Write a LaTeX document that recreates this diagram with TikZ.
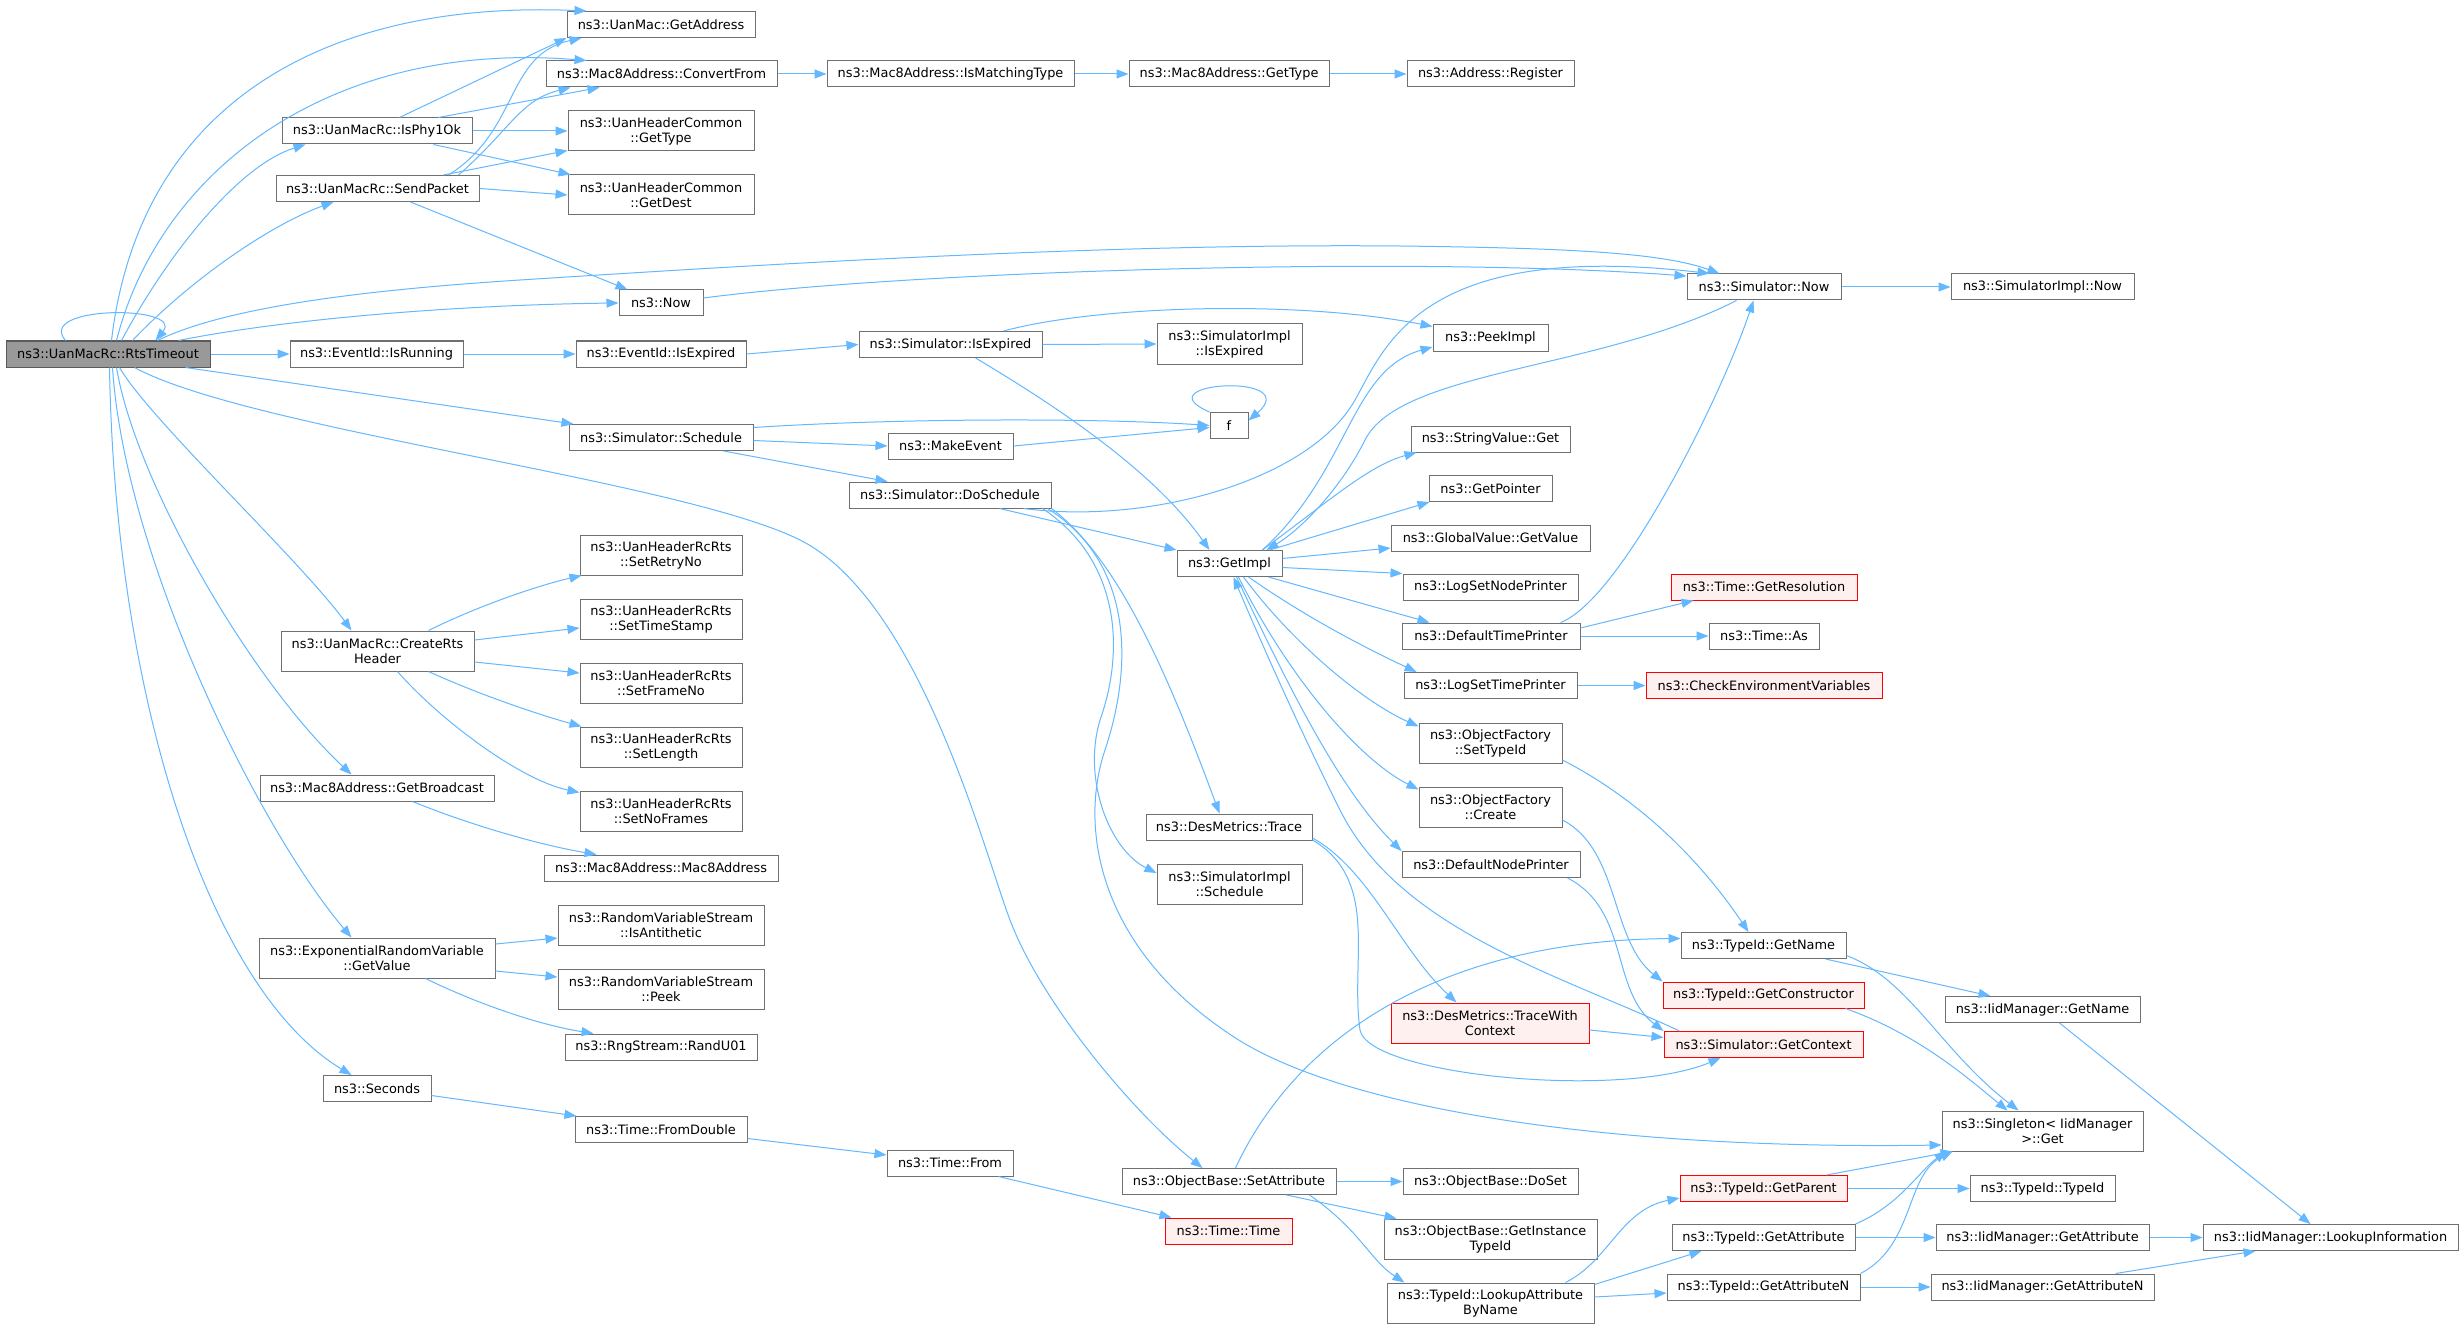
\documentclass[tikz,border=0pt]{standalone}
\usepackage{fontspec}
\setmainfont{DejaVu Sans}
\usetikzlibrary{arrows.meta}
\definecolor{edgec}{HTML}{63B8FF}
\definecolor{nodeb}{HTML}{707070}
\definecolor{rootf}{HTML}{999999}
\definecolor{redf}{HTML}{FFF0F0}
\begin{document}
\begin{tikzpicture}[x=1pt,y=-1pt,
 fn/.style={draw=nodeb, fill=white, line width=1pt, inner sep=0pt, align=center,
   font=\fontsize{12.9}{15}\selectfont, minimum height=26pt},
 two/.style={minimum height=40pt},
 redn/.style={draw=red, fill=redf},
 rootn/.style={fill=rootf, draw=nodeb!80!black},
 call/.style={draw=edgec, line width=1pt, -{Triangle[length=12pt,width=9pt]}}]
\fill[white] (0,0) rectangle (2464,1329);
\useasboundingbox (0,0) rectangle (2464,1329);

% nodes
\node[fn,rootn,minimum width=204pt] (R) at (108,354) {ns3::UanMacRc::RtsTimeout};
\node[fn,minimum width=188pt] (uma) at (661,24.5) {ns3::UanMac::GetAddress};
\node[fn,minimum width=231pt] (cf) at (661.5,74) {ns3::Mac8Address::ConvertFrom};
\node[fn,minimum width=247pt] (imt) at (950.5,74) {ns3::Mac8Address::IsMatchingType};
\node[fn,minimum width=200pt] (m8gt) at (1229,74) {ns3::Mac8Address::GetType};
\node[fn,minimum width=167pt] (reg) at (1490.5,74) {ns3::Address::Register};
\node[fn,minimum width=190pt] (phy) at (377,131) {ns3::UanMacRc::IsPhy1Ok};
\node[fn,two,minimum width=186pt] (uhgt) at (661,131) {ns3::UanHeaderCommon\\::GetType};
\node[fn,minimum width=203pt] (sp) at (377.5,188.5) {ns3::UanMacRc::SendPacket};
\node[fn,two,minimum width=186pt] (uhgd) at (661,195) {ns3::UanHeaderCommon\\::GetDest};
\node[fn,minimum width=84pt] (now) at (661,303) {ns3::Now};
\node[fn,minimum width=154pt] (snow) at (1764,287) {ns3::Simulator::Now};
\node[fn,minimum width=183pt] (sinow) at (2042.5,287) {ns3::SimulatorImpl::Now};
\node[fn,minimum width=173pt] (isr) at (376.5,354) {ns3::EventId::IsRunning};
\node[fn,minimum width=170pt] (eie) at (661,354) {ns3::EventId::IsExpired};
\node[fn,minimum width=183pt] (sie) at (950.5,344.5) {ns3::Simulator::IsExpired};
\node[fn,two,minimum width=145pt] (siie) at (1229.5,344) {ns3::SimulatorImpl\\::IsExpired};
\node[fn,minimum width=115pt] (peek) at (1490.5,338) {ns3::PeekImpl};
\node[fn,minimum width=184pt] (sched) at (661,437.5) {ns3::Simulator::Schedule};
\node[fn,minimum width=38pt] (f) at (1229,425.5) {f};
\node[fn,minimum width=125pt] (mk) at (950.5,446) {ns3::MakeEvent};
\node[fn,minimum width=159pt] (svg) at (1490.5,439) {ns3::StringValue::Get};
\node[fn,minimum width=202pt] (ds) at (950,495) {ns3::Simulator::DoSchedule};
\node[fn,minimum width=123pt] (gp) at (1490.5,488.5) {ns3::GetPointer};
\node[fn,minimum width=105pt] (gi) at (1229.5,563.5) {ns3::GetImpl};
\node[fn,minimum width=199pt] (gv) at (1490.5,538) {ns3::GlobalValue::GetValue};
\node[fn,minimum width=175pt] (lsnp) at (1490.5,587) {ns3::LogSetNodePrinter};
\node[fn,minimum width=178pt] (dtp) at (1491,636) {ns3::DefaultTimePrinter};
\node[fn,minimum width=173pt] (lstp) at (1490.5,685.5) {ns3::LogSetTimePrinter};
\node[fn,two,minimum width=143pt] (ofs) at (1490.5,743) {ns3::ObjectFactory\\::SetTypeId};
\node[fn,two,minimum width=143pt] (ofc) at (1490.5,807) {ns3::ObjectFactory\\::Create};
\node[fn,minimum width=166pt] (dmt) at (1229,827) {ns3::DesMetrics::Trace};
\node[fn,two,minimum width=145pt] (siis) at (1229.5,884) {ns3::SimulatorImpl\\::Schedule};
\node[fn,minimum width=178pt] (dnp) at (1491,864.5) {ns3::DefaultNodePrinter};
\node[fn,two,redn,minimum width=198pt] (dmtc) at (1490,1023) {ns3::DesMetrics::TraceWith\\Context};
\node[fn,redn,minimum width=186pt] (gres) at (1764,587) {ns3::Time::GetResolution};
\node[fn,minimum width=110pt] (tas) at (1764,636) {ns3::Time::As};
\node[fn,redn,minimum width=236pt] (cev) at (1764,685.5) {ns3::CheckEnvironmentVariables};
\node[fn,two,minimum width=162pt] (srr) at (661,555) {ns3::UanHeaderRcRts\\::SetRetryNo};
\node[fn,two,minimum width=193pt] (cr) at (377.5,651) {ns3::UanMacRc::CreateRts\\Header};
\node[fn,two,minimum width=162pt] (sts) at (661,619) {ns3::UanHeaderRcRts\\::SetTimeStamp};
\node[fn,two,minimum width=162pt] (sfn) at (661,683) {ns3::UanHeaderRcRts\\::SetFrameNo};
\node[fn,two,minimum width=162pt] (sl) at (661,747) {ns3::UanHeaderRcRts\\::SetLength};
\node[fn,two,minimum width=162pt] (snf) at (661,811) {ns3::UanHeaderRcRts\\::SetNoFrames};
\node[fn,minimum width=234pt] (gb) at (377,788) {ns3::Mac8Address::GetBroadcast};
\node[fn,minimum width=234pt] (m8) at (661,868) {ns3::Mac8Address::Mac8Address};
\node[fn,two,minimum width=206pt] (ia) at (661,925.5) {ns3::RandomVariableStream\\::IsAntithetic};
\node[fn,two,minimum width=236pt] (erv) at (377,958) {ns3::ExponentialRandomVariable\\::GetValue};
\node[fn,two,minimum width=206pt] (pk) at (661,989.5) {ns3::RandomVariableStream\\::Peek};
\node[fn,minimum width=192pt] (ru) at (661,1047) {ns3::RngStream::RandU01};
\node[fn,minimum width=108pt] (sec) at (377,1088.5) {ns3::Seconds};
\node[fn,minimum width=172pt] (fd) at (661,1129.5) {ns3::Time::FromDouble};
\node[fn,minimum width=126pt] (tf) at (950,1163) {ns3::Time::From};
\node[fn,minimum width=214pt] (sa) at (1229,1181.5) {ns3::ObjectBase::SetAttribute};
\node[fn,minimum width=175pt] (dos) at (1490.5,1181.5) {ns3::ObjectBase::DoSet};
\node[fn,redn,minimum width=127pt] (tt) at (1228.5,1231) {ns3::Time::Time};
\node[fn,two,minimum width=213pt] (gitid) at (1490.5,1239) {ns3::ObjectBase::GetInstance\\TypeId};
\node[fn,two,minimum width=207pt] (laby) at (1490.5,1303) {ns3::TypeId::LookupAttribute\\ByName};
\node[fn,minimum width=165pt] (tgn) at (1763.5,945.5) {ns3::TypeId::GetName};
\node[fn,redn,minimum width=201pt] (gc) at (1763.5,995) {ns3::TypeId::GetConstructor};
\node[fn,redn,minimum width=199pt] (sgc) at (1763.5,1044.5) {ns3::Simulator::GetContext};
\node[fn,minimum width=195pt] (ign) at (2042.5,1009.5) {ns3::IidManager::GetName};
\node[fn,two,minimum width=201pt] (sg) at (2042.5,1131) {ns3::Singleton< IidManager\\>::Get};
\node[fn,redn,minimum width=167pt] (gpar) at (1763.5,1188.5) {ns3::TypeId::GetParent};
\node[fn,minimum width=145pt] (tid) at (2042.5,1188.5) {ns3::TypeId::TypeId};
\node[fn,minimum width=183pt] (tga) at (1763.5,1237.5) {ns3::TypeId::GetAttribute};
\node[fn,minimum width=213pt] (iga) at (2042.5,1237.5) {ns3::IidManager::GetAttribute};
\node[fn,minimum width=255pt] (lki) at (2330.5,1237.5) {ns3::IidManager::LookupInformation};
\node[fn,minimum width=193pt] (tgan) at (1763.5,1287) {ns3::TypeId::GetAttributeN};
\node[fn,minimum width=223pt] (igan) at (2042.5,1287) {ns3::IidManager::GetAttributeN};

% edges from RtsTimeout
\draw[call] ([xshift=60pt]R.north west) .. controls (35,305) and (185,305) .. ([xshift=150pt]R.north west);
\draw[call] ([xshift=106pt]R.north west) .. controls (140,100) and (330,0) .. ([xshift=20pt]uma.north west);
\draw[call] ([xshift=111pt]R.north west) .. controls (160,170) and (330,40) .. ([xshift=41pt]cf.north west);
\draw[call] ([xshift=116pt]R.north west) .. controls (170,250) and (240,165) .. ([xshift=24pt]phy.south west);
\draw[call] ([xshift=127pt]R.north west) .. controls (190,280) and (270,225) .. ([xshift=58pt]sp.south west);
\draw[call] ([xshift=152pt]R.north west) .. controls (230,305) and (380,289) .. (520,280)
  .. controls (740,266) and (1100,243) .. (1400,246)
  .. controls (1560,248) and (1660,252) .. ([xshift=33pt]snow.north west);
\draw[call] ([xshift=173pt]R.north west) .. controls (280,320) and (450,305) .. (now.west);
\draw[call] (R.east) -- (isr.west);
\draw[call] ([xshift=180pt]R.south west) -- ([xshift=5pt]sched.north west);
\draw[call] ([xshift=129pt]R.south west) .. controls (250,430) and (680,480) .. (800,540)
  .. controls (920,600) and (985,855) .. (1010,920)
  .. controls (1040,1000) and (1130,1110) .. ([xshift=81pt]sa.north west);
\draw[call] ([xshift=114pt]R.south west) .. controls (150,420) and (300,560) .. ([xshift=71pt]cr.north west);
\draw[call] ([xshift=111pt]R.south west) .. controls (135,480) and (250,680) .. ([xshift=92pt]gb.north west);
\draw[call] ([xshift=107pt]R.south west) .. controls (125,560) and (260,830) .. ([xshift=93pt]erv.north west);
\draw[call] ([xshift=104pt]R.south west) .. controls (115,700) and (210,990) .. ([xshift=29pt]sec.north west);

% IsPhy1Ok / SendPacket
\draw[call] ([xshift=118pt]phy.north west) -- (uma.south west);
\draw[call] ([xshift=157pt]phy.north west) -- ([xshift=54pt]cf.south west);
\draw[call] (phy.east) -- (uhgt.west);
\draw[call] ([xshift=152pt]phy.south west) -- ([xshift=3pt]uhgd.north west);
\draw[call] ([xshift=168pt]sp.north west) -- ([yshift=1pt]uhgt.south west);
\draw[call] ([xshift=173pt]sp.north west) .. controls (520,130) and (505,55) .. ([xshift=15pt]uma.south west);
\draw[call] ([xshift=183pt]sp.north west) .. controls (510,130) and (520,100) .. ([xshift=25pt]cf.south west);
\draw[call] (sp.east) -- (uhgd.west);
\draw[call] ([xshift=135pt]sp.south west) -- ([xshift=9pt]now.north west);

% Mac8Address chain
\draw[call] (cf.east) -- (imt.west);
\draw[call] (imt.east) -- (m8gt.west);
\draw[call] (m8gt.east) -- (reg.west);

% Now
\draw[call] ([yshift=5pt]now.east) .. controls (900,272) and (1400,255) .. ([yshift=11pt]snow.west);
\draw[call] (snow.east) -- (sinow.west);
\draw[call] ([xshift=50pt]snow.south west) .. controls (1600,370) and (1400,370) .. (1365,440)
  .. controls (1340,490) and (1300,530) .. ([xshift=90pt]gi.north west);

% EventId
\draw[call] (isr.east) -- (eie.west);
\draw[call] (eie.east) -- (sie.west);
\draw[call] (sie.east) -- (siie.west);
\draw[call] ([xshift=145pt]sie.north west) .. controls (1100,305) and (1300,300) .. ([yshift=-2pt]peek.north west);
\draw[call] ([xshift=117pt]sie.south west) .. controls (1080,420) and (1160,480) .. ([xshift=33pt]gi.north west);
\draw[call] ([xshift=86pt]gi.north west) .. controls (1350,470) and (1350,370) .. ([yshift=-9pt]peek.west);

% Schedule
\draw[call] ([yshift=10pt]sched.east) .. controls (900,418) and (1100,418) .. (f.west);
\draw[call] ([yshift=-3pt]sched.east) -- (mk.west);
\draw[call] ([xshift=155pt]sched.south west) -- ([xshift=39pt]ds.north west);
\draw[call] (mk.east) -- ([yshift=-2pt]f.west);
\draw[call] (f.north west) .. controls (1140,382) and (1305,372) .. ([yshift=5pt]f.east);

% DoSchedule
\draw[call] ([xshift=175pt]ds.south west) .. controls (1150,525) and (1310,480) .. (1355,400)
  .. controls (1385,347) and (1420,240) .. ([xshift=23pt]snow.north west);
\draw[call] ([xshift=151pt]ds.south west) -- (gi.north west);
\draw[call] (ds.south east) .. controls (1120,560) and (1170,680) .. ([xshift=74pt]dmt.north west);
\draw[call] ([xshift=194pt]ds.south west) .. controls (1120,560) and (1125,650) .. (1100,720)
  .. controls (1082,780) and (1110,850) .. ([yshift=11pt]siis.west);
\draw[call] ([xshift=199pt]ds.south west) .. controls (1130,560) and (1135,660) .. (1105,750)
  .. controls (1078,830) and (1100,950) .. (1234,1037)
  .. controls (1341,1107) and (1600,1150) .. ([yshift=-14pt]sg.west);

% GetImpl
\draw[call] ([xshift=86pt]gi.north west) .. controls (1330,500) and (1370,465) .. ([xshift=6pt]svg.south west);
\draw[call] ([xshift=93pt]gi.north west) -- ([xshift=1pt]gp.south west);
\draw[call] ([yshift=5pt]gi.east) -- ([yshift=-10pt]gv.west);
\draw[call] ([yshift=-4pt]gi.east) -- (lsnp.north west);
\draw[call] ([xshift=92pt]gi.south west) -- ([xshift=28pt]dtp.north west);
\draw[call] ([xshift=72pt]gi.south west) .. controls (1310,620) and (1370,650) .. ([xshift=13pt]lstp.north west);
\draw[call] ([xshift=67pt]gi.south west) .. controls (1290,640) and (1360,700) .. ([yshift=-4pt]ofs.north west);
\draw[call] ([xshift=62pt]gi.south west) .. controls (1290,680) and (1360,760) .. ([yshift=-3pt]ofc.north west);
\draw[call] ([xshift=60pt]gi.south west) .. controls (1290,690) and (1340,790) .. (dnp.north west);
\draw[call] ([xshift=16pt]sgc.north west) .. controls (1560,975) and (1400,930) .. (1340,810)
  .. controls (1300,730) and (1260,640) .. ([xshift=57pt]gi.south west);

% DesMetrics
\draw[call] ([yshift=-11pt]dmt.east) .. controls (1370,870) and (1400,950) .. ([xshift=66pt]dmtc.north west);
\draw[call] ([yshift=-13pt]dmt.east) .. controls (1380,880) and (1350,960) .. (1360,1030)
  .. controls (1368,1075) and (1620,1100) .. ([xshift=57pt]sgc.south west);
\draw[call] ([yshift=-7pt]dmtc.east) -- ([yshift=7pt]sgc.west);
\draw[call] ([xshift=-13pt]dnp.south east) .. controls (1630,910) and (1610,990) .. (sgc.north west);
\draw[call] ([yshift=-13pt]ofc.east) .. controls (1620,850) and (1610,940) .. (gc.north west);
\draw[call] ([yshift=-17pt]ofs.east) .. controls (1640,800) and (1700,860) .. ([xshift=68pt]tgn.north west);

% DefaultTimePrinter etc.
\draw[call] ([xshift=-20pt]dtp.north east) .. controls (1620,600) and (1720,400) .. ([xshift=67pt]snow.south west);
\draw[call] ([yshift=8pt]dtp.east) -- ([xshift=23pt]gres.south west);
\draw[call] (dtp.east) -- (tas.west);
\draw[call] (lstp.east) -- (cev.west);

% SetAttribute
\draw[call] ([xshift=114pt]sa.north west) .. controls (1300,1030) and (1450,940) .. ([yshift=7pt]tgn.west);
\draw[call] (sa.east) -- (dos.west);
\draw[call] ([xshift=165pt]sa.south west) -- ([xshift=13pt]gitid.north west);
\draw[call] ([xshift=188pt]sa.south west) .. controls (1360,1230) and (1370,1260) .. ([xshift=18pt]laby.north west);
\draw[call] ([xshift=-29pt]laby.north east) .. controls (1610,1260) and (1620,1210) .. ([yshift=-9.5pt]gpar.west);
\draw[call] ([yshift=-2pt]laby.north east) -- ([xshift=30pt]tga.south west);
\draw[call] ([yshift=6pt]laby.east) -- ([yshift=-6pt]tgan.west);

% TypeId / IidManager
\draw[call] ([xshift=-21pt]gpar.north east) -- ([xshift=11pt]sg.south west);
\draw[call] (gpar.east) -- (tid.west);
\draw[call] (tga.north east) .. controls (1900,1205) and (1920,1170) .. ([xshift=5pt]sg.south west);
\draw[call] (tga.east) -- (iga.west);
\draw[call] (tgan.north east) .. controls (1915,1245) and (1905,1175) .. ([xshift=11pt]sg.south west);
\draw[call] (tgan.east) -- (igan.west);
\draw[call] (iga.east) -- (lki.west);
\draw[call] ([xshift=-39pt]igan.north east) -- ([xshift=53pt]lki.south west);
\draw[call] ([xshift=115pt]ign.south west) -- ([xshift=108pt]lki.north west);
\draw[call] ([xshift=145pt]tgn.south west) -- ([xshift=46pt]ign.north west);
\draw[call] ([yshift=-10pt]tgn.east) .. controls (1910,980) and (1940,1050) .. ([xshift=77pt]sg.north west);
\draw[call] ([xshift=-19pt]gc.south east) .. controls (1920,1035) and (1970,1080) .. ([xshift=66pt]sg.north west);

% Random variable / time
\draw[call] ([yshift=14pt]erv.east) -- ([yshift=-12.5pt]ia.west);
\draw[call] ([yshift=-13pt]erv.east) -- ([yshift=12.5pt]pk.west);
\draw[call] ([xshift=167pt]erv.south west) .. controls (480,1005) and (540,1025) .. ([xshift=29pt]ru.north west);
\draw[call] ([yshift=-7pt]sec.east) -- ([xshift=2pt]fd.north west);
\draw[call] ([yshift=-9pt]fd.east) -- ([yshift=8pt]tf.west);
\draw[call] ([xshift=112pt]tf.south west) -- ([xshift=7pt]tt.north west);
\draw[call] ([xshift=153pt]gb.south west) .. controls (470,825) and (540,845) .. ([xshift=53pt]m8.north west);

% CreateRtsHeader
\draw[call] ([xshift=148pt]cr.north west) .. controls (480,605) and (540,585) .. ([xshift=2pt]srr.south west);
\draw[call] ([yshift=11pt]cr.east) -- ([yshift=-9pt]sts.west);
\draw[call] ([yshift=-11pt]cr.east) -- ([yshift=10pt]sfn.west);
\draw[call] ([xshift=148pt]cr.south west) .. controls (480,695) and (540,715) .. ([xshift=2pt]sl.north west);
\draw[call] ([xshift=117pt]cr.south west) .. controls (440,720) and (520,780) .. ([yshift=-2pt]snf.north west);
\end{tikzpicture}
\end{document}
